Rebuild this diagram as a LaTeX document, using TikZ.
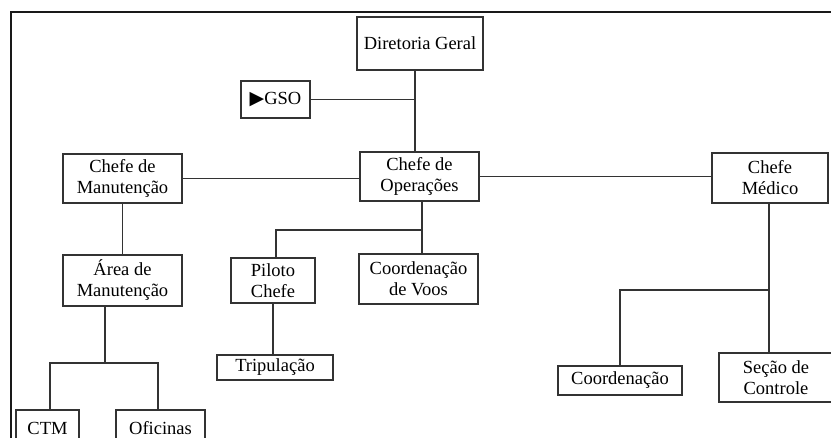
\documentclass[tikz,border=0pt]{standalone}
\usepackage{fontspec}
\setmainfont{Liberation Serif}
\newfontfamily\symbfont{DejaVu Sans}
\begin{document}
\begin{tikzpicture}[x=1pt,y=-1pt,
  box/.style={draw=black!80, line width=1.1pt, inner sep=0pt, align=center,
    font=\fontsize{18.5}{21}\selectfont, text=black},
  conn/.style={draw=black!80, line width=1.1pt},
  frame/.style={draw=black!90, line width=1.6pt}]
\clip (0,0) rectangle (831,438);
\useasboundingbox (0,0) rectangle (831,438);
\draw[frame] (11,445) -- (11,12) -- (840,12);

\node[box, minimum width=126, minimum height=53] (dg) at (420,43.5) {Diretoria Geral};
\node[box, minimum width=69, minimum height=37] (gso) at (275.5,99.5) {{\symbfont\fontsize{19}{19}\selectfont ▶}GSO};
\node[box, minimum width=119, minimum height=49] (ops) at (419.5,176.5) {Chefe de\\Operações};
\node[box, minimum width=119, minimum height=49] (man) at (122.5,178.5) {Chefe de\\Manutenção};
\node[box, minimum width=116, minimum height=50] (med) at (770,178) {Chefe\\Médico};
\node[box, minimum width=119, minimum height=51] (area) at (122.5,280.5) {Área de\\Manutenção};
\node[box, minimum width=84, minimum height=45] (pil) at (273,280.5) {Piloto\\Chefe};
\node[box, minimum width=119, minimum height=50] (voos) at (418.5,279) {Coordenação\\de Voos};
\node[box, minimum width=116, minimum height=25] (tri) at (275,367.5) {Tripulação};
\node[box, minimum width=63, minimum height=36] (ctm) at (47.5,428) {CTM};
\node[box, minimum width=89, minimum height=36] (ofi) at (160.5,428) {Oficinas};
\node[box, minimum width=124, minimum height=29] (coord) at (620,380.5) {Coordenação};
\node[box, minimum width=114, minimum height=49] (sec) at (776,377.5) {Seção de\\Controle};

\coordinate (t1) at (415,99);
\coordinate (a1) at (105,363);
\coordinate (c1) at (50,363);
\coordinate (c2) at (158,363);
\coordinate (o1) at (422,230);
\coordinate (o2) at (276,230);
\coordinate (m1) at (769,290);
\coordinate (m2) at (620,290);

\draw[conn] (dg.south -| t1) -- (ops.north -| t1);
\draw[conn] (gso.east) -- (gso.east -| t1);
\draw[conn] (man.east) -- (man.east -| ops.west);
\draw[conn] (ops.east) -- (ops.east -| med.west);
\draw[conn] (man.south) -- (area.north);
\draw[conn] (area.south -| a1) -- (a1);
\draw[conn] (c1 |- ctm.north) -- (c1) -- (c2) -- (c2 |- ofi.north);
\draw[conn] (o1 |- ops.south) -- (o1 |- voos.north);
\draw[conn] (o1) -- (o2) -- (o2 |- pil.north);
\draw[conn] (pil.south) -- (pil.south |- tri.north);
\draw[conn] (m1 |- med.south) -- (m1 |- sec.north);
\draw[conn] (m1) -- (m2) -- (m2 |- coord.north);
\end{tikzpicture}
\end{document}
